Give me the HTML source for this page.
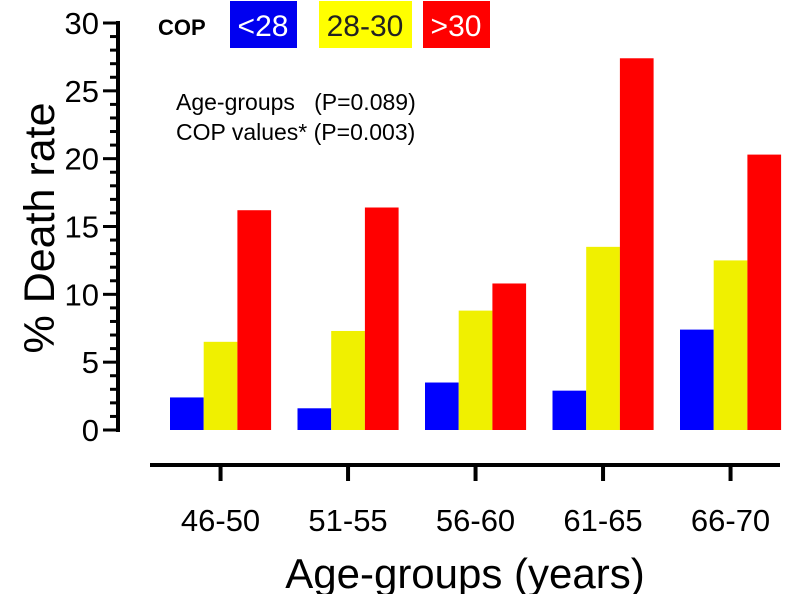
<!DOCTYPE html>
<html><head><meta charset="utf-8"><style>
body{margin:0;background:#fff;}
svg text{font-family:"Liberation Sans",sans-serif;}
</style></head><body>
<svg width="800" height="594" xmlns="http://www.w3.org/2000/svg" id="c">
<rect x="230" y="1" width="67" height="47" fill="#0000f0"/>
<text x="263" y="36" font-size="30" fill="#fff" text-anchor="middle">&lt;28</text>
<rect x="319" y="1" width="93" height="47" fill="#ffff00"/>
<text x="365" y="36" font-size="30" fill="#222" text-anchor="middle">28-30</text>
<rect x="423" y="1" width="67" height="47" fill="#ff0000"/>
<text x="456" y="36" font-size="30" fill="#fff" text-anchor="middle">&gt;30</text>
<text x="158" y="35" font-size="22" font-weight="bold">COP</text>
<text x="176" y="110" font-size="23">Age-groups&#160;&#160;&#160;(P=0.089)</text>
<text x="176" y="140" font-size="23">COP values* (P=0.003)</text>
<text transform="translate(54,228) rotate(-90)" font-size="43" text-anchor="middle">% Death rate</text>
<text x="465" y="588" font-size="42" text-anchor="middle">Age-groups (years)</text>
<g id="axes"></g><g id="bars"></g>
</svg>
<script>
const categories=["46-50","51-55","56-60","61-65","66-70"];
const seriesLt28=[2.4,1.6,3.5,2.9,7.4];
const series2830=[6.5,7.3,8.8,13.5,12.5];
const seriesGt30=[16.2,16.4,10.8,27.4,20.3];
const yTicks=[0,5,10,15,20,25,30];
const NS="http://www.w3.org/2000/svg";
const y0=430,yTop=23;
function yS(v){return y0-(y0-yTop)*v/30;}
function gx(i){return 170+i*127.5;}
const bw=33.7;
const ax=document.getElementById('axes'),bg=document.getElementById('bars');
function mk(t,a,p){const e=document.createElementNS(NS,t);for(const k in a)e.setAttribute(k,a[k]);p.appendChild(e);return e;}
let l=mk('line',{x1:118,y1:yS(30)-2,x2:118,y2:y0+2,stroke:'#000','stroke-width':4},ax);


for(let v=0;v<=30;v++){const m=v%5===0;const t=mk('line',{x1:m?103:110,y1:yS(v),x2:118,y2:yS(v),stroke:'#000','stroke-width':3},ax);

}
yTicks.forEach(v=>{const t=mk('text',{x:99,y:yS(v)+11,'font-size':31,'text-anchor':'end'},ax);t.textContent=v;

});
l=mk('line',{x1:150,y1:465,x2:780,y2:465,stroke:'#000','stroke-width':4},ax);


const sets=[[seriesLt28,'#0000ff','lt28'],[series2830,'#f0f000','28-30'],[seriesGt30,'#ff0000','gt30']];
categories.forEach((c,i)=>{const cx=gx(i)+bw*1.5;
const t=mk('line',{x1:cx,y1:465,x2:cx,y2:481,stroke:'#000','stroke-width':4},ax);


const tx=mk('text',{x:cx,y:531,'font-size':31,'text-anchor':'middle'},ax);tx.textContent=c;


sets.forEach((s,j)=>{const v=s[0][i];const r=mk('rect',{x:gx(i)+j*bw,y:yS(v),width:bw,height:y0-yS(v),fill:s[1]},bg);

});
});
</script>
</body></html>
